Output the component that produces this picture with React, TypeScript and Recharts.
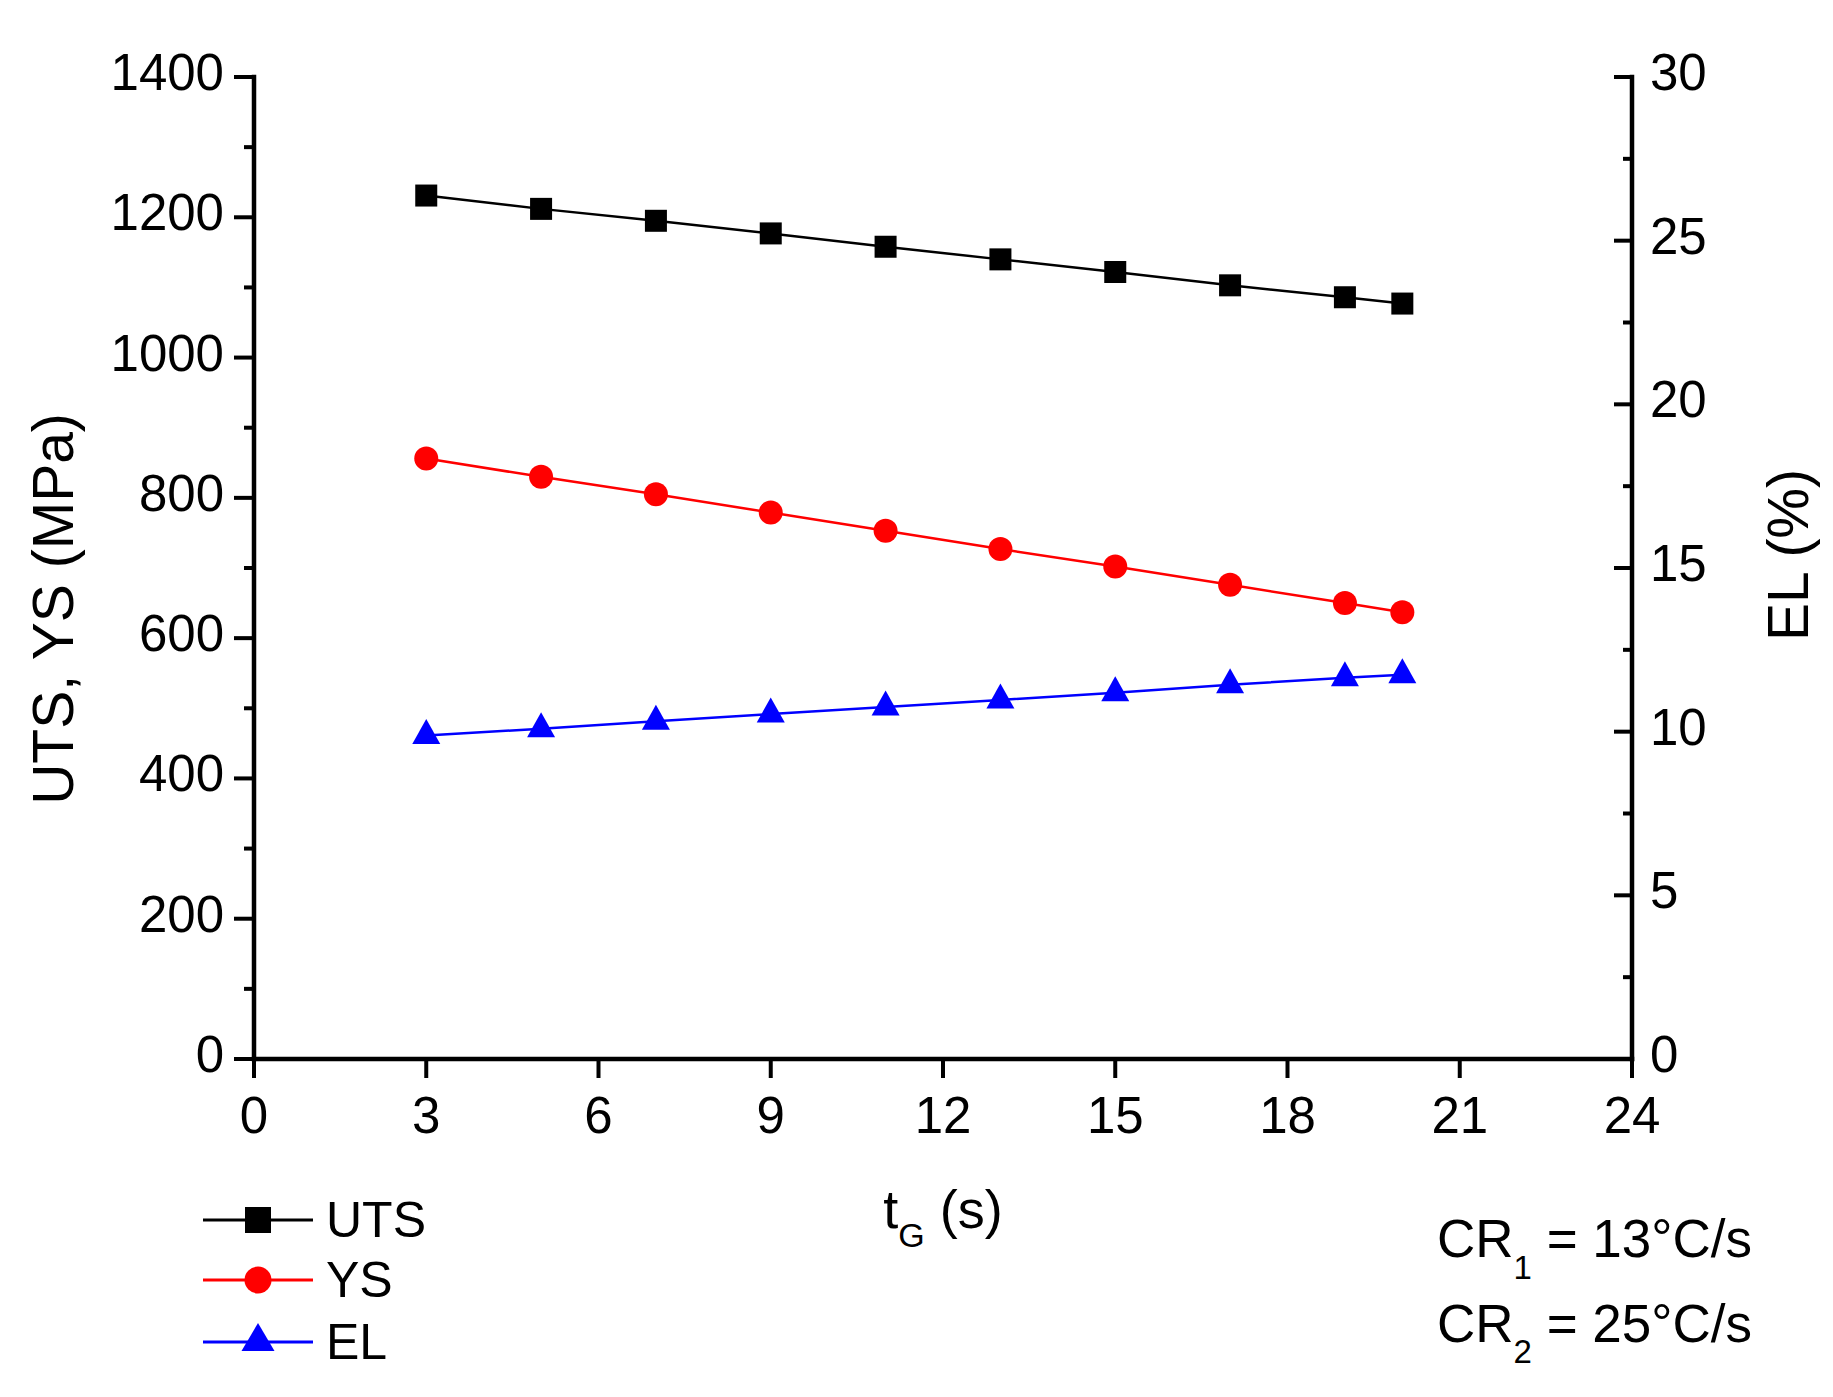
import { LineChart, Line, XAxis, YAxis, Legend, Label } from "recharts";

// values
const tG = [3, 5, 7, 9, 11, 13, 15, 17, 19, 20];
const uts = [1231, 1212, 1195, 1177, 1158, 1140, 1122, 1103, 1086, 1077];
const ysVals = [856, 830, 805, 779, 753, 727, 702, 676, 650, 637];
const elVals = [9.88, 10.09, 10.32, 10.54, 10.75, 10.97, 11.19, 11.43, 11.65, 11.74];

const xTicks = [0, 3, 6, 9, 12, 15, 18, 21, 24];
const leftTicks = [0, 100, 200, 300, 400, 500, 600, 700, 800, 900, 1000, 1100, 1200, 1300, 1400];
const rightTicks = [0, 2.5, 5, 7.5, 10, 12.5, 15, 17.5, 20, 22.5, 25, 27.5, 30];

const data = tG.map((t, i) => ({ t, uts: uts[i], ys: ysVals[i], el: elVals[i] }));

const FONT = "'Liberation Sans', Arial, sans-serif";
const W = 1833;
const H = 1397;

const axisLine = { stroke: "#000", strokeWidth: 4.5, strokeLinecap: "square" as const };

function LeftTick({ x, y, payload }: any) {
  const major = payload.value % 200 === 0;
  return (
    <g>
      <line x1={x} x2={x - (major ? 20 : 10)} y1={y} y2={y} stroke="#000" strokeWidth={4} />
      {major && (
        <text x={x - 30} y={y + 13} textAnchor="end" fontSize={51} fontFamily={FONT} fill="#000">
          {payload.value}
        </text>
      )}
    </g>
  );
}

function RightTick({ x, y, payload }: any) {
  const major = payload.value % 5 === 0;
  return (
    <g>
      <line x1={x} x2={x - (major ? 18 : 9)} y1={y} y2={y} stroke="#000" strokeWidth={4} />
      {major && (
        <text x={x + 18} y={y + 13} textAnchor="start" fontSize={51} fontFamily={FONT} fill="#000">
          {payload.value}
        </text>
      )}
    </g>
  );
}

function BottomTick({ x, y, payload }: any) {
  return (
    <g>
      <line x1={x} x2={x} y1={y} y2={y + 19} stroke="#000" strokeWidth={4} />
      <text x={x} y={y + 74} textAnchor="middle" fontSize={51} fontFamily={FONT} fill="#000">
        {payload.value}
      </text>
    </g>
  );
}

const squareDot = ({ cx, cy, index }: any) => (
  <rect key={`s${index}`} x={cx - 11} y={cy - 11} width={22} height={22} fill="#000" />
);
const circleDot = ({ cx, cy, index }: any) => (
  <circle key={`c${index}`} cx={cx} cy={cy} r={12} fill="#FF0000" />
);
const triangleDot = ({ cx, cy, index }: any) => (
  <polygon
    key={`t${index}`}
    points={`${cx},${cy - 16.5} ${cx + 14},${cy + 8.5} ${cx - 14},${cy + 8.5}`}
    fill="#0000FF"
  />
);

function Overlay() {
  const rows = [
    { name: "UTS", color: "#000000", y: 1220, marker: "square" },
    { name: "YS", color: "#FF0000", y: 1280, marker: "circle" },
    { name: "EL", color: "#0000FF", y: 1342, marker: "triangle" },
  ];
  return (
    <svg width={W} height={H} style={{ display: "block" }}>
      {rows.map((r) => (
        <g key={r.name}>
          <line x1={203} x2={313} y1={r.y} y2={r.y} stroke={r.color} strokeWidth={3} />
          {r.marker === "square" && (
            <rect x={245} y={r.y - 13} width={26} height={26} fill={r.color} />
          )}
          {r.marker === "circle" && <circle cx={258} cy={r.y} r={13.5} fill={r.color} />}
          {r.marker === "triangle" && (
            <polygon
              points={`258,${r.y - 19} 274.5,${r.y + 9} 241.5,${r.y + 9}`}
              fill={r.color}
            />
          )}
          <text x={326} y={r.y + 17} fontSize={50} fontFamily={FONT} fill="#000">
            {r.name}
          </text>
        </g>
      ))}
      <text x={1437} y={1257} fontSize={53} fontFamily={FONT} fill="#000">
        CR
        <tspan fontSize={33} dy={22}>1</tspan>
        <tspan dy={-22}> = 13°C/s</tspan>
      </text>
      <text x={1437} y={1342} fontSize={53} fontFamily={FONT} fill="#000">
        CR
        <tspan fontSize={33} dy={21}>2</tspan>
        <tspan dy={-21}> = 25°C/s</tspan>
      </text>
    </svg>
  );
}

export default function App() {
  return (
    <div style={{ position: "absolute", left: 0, top: 0, width: W, height: H, background: "#fff" }}>
      <LineChart
        width={W}
        height={H}
        data={data}
        margin={{ top: 77, right: 101, bottom: 238, left: 154 }}
      >
        <XAxis
          dataKey="t"
          type="number"
          domain={[0, 24]}
          ticks={xTicks}
          interval={0}
          height={100}
          axisLine={axisLine}
          tickLine={false}
          tickSize={0}
          tickMargin={0}
          tick={<BottomTick />}
        >
          <Label
            content={() => (
              <text x={943} y={1228} textAnchor="middle" fontSize={54} fontFamily={FONT} fill="#000">
                t<tspan fontSize={34} dy={19}>G</tspan>
                <tspan dy={-19}> (s)</tspan>
              </text>
            )}
          />
        </XAxis>
        <YAxis
          yAxisId="left"
          orientation="left"
          type="number"
          domain={[0, 1400]}
          ticks={leftTicks}
          interval={0}
          width={100}
          axisLine={axisLine}
          tickLine={false}
          tickSize={0}
          tickMargin={0}
          tick={<LeftTick />}
        >
          <Label
            content={() => (
              <text
                x={73}
                y={609}
                transform="rotate(-90 73 609)"
                textAnchor="middle"
                fontSize={57}
                fontFamily={FONT}
                fill="#000"
              >
                UTS, YS (MPa)
              </text>
            )}
          />
        </YAxis>
        <YAxis
          yAxisId="right"
          orientation="right"
          type="number"
          domain={[0, 30]}
          ticks={rightTicks}
          interval={0}
          width={100}
          axisLine={axisLine}
          tickLine={false}
          tickSize={0}
          tickMargin={0}
          tick={<RightTick />}
        >
          <Label
            content={() => (
              <text
                x={1808}
                y={555}
                transform="rotate(-90 1808 555)"
                textAnchor="middle"
                fontSize={57}
                fontFamily={FONT}
                fill="#000"
              >
                EL (%)
              </text>
            )}
          />
        </YAxis>
        <Legend
          layout="vertical"
          align="center"
          verticalAlign="middle"
          wrapperStyle={{ left: 0, top: 0, width: W, height: H, pointerEvents: "none" }}
          content={() => <Overlay />}
        />
        <Line
          yAxisId="left"
          type="linear"
          dataKey="uts"
          stroke="#000000"
          strokeWidth={2.5}
          dot={squareDot}
          activeDot={false}
          isAnimationActive={false}
        />
        <Line
          yAxisId="left"
          type="linear"
          dataKey="ys"
          stroke="#FF0000"
          strokeWidth={2.5}
          dot={circleDot}
          activeDot={false}
          isAnimationActive={false}
        />
        <Line
          yAxisId="right"
          type="linear"
          dataKey="el"
          stroke="#0000FF"
          strokeWidth={2.5}
          dot={triangleDot}
          activeDot={false}
          isAnimationActive={false}
        />
      </LineChart>
    </div>
  );
}
